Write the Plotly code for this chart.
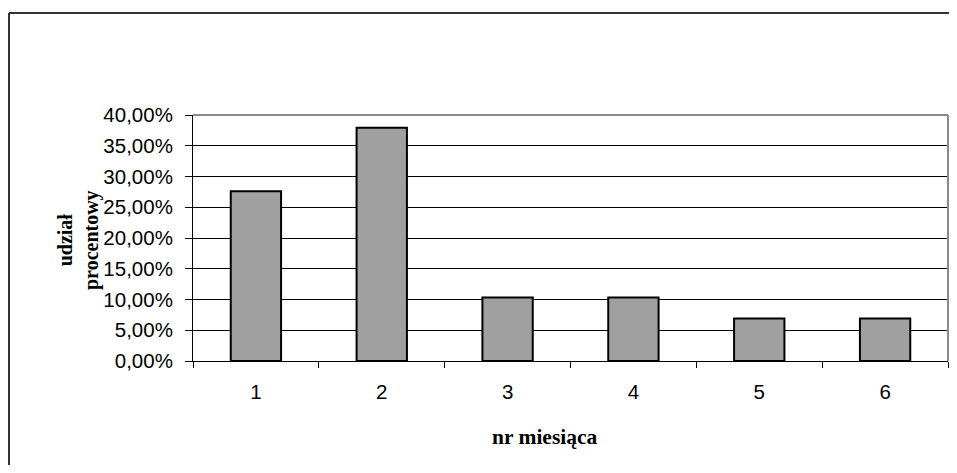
import plotly.graph_objects as go

months = ["1", "2", "3", "4", "5", "6"]
share = [0.2759, 0.3793, 0.1034, 0.1034, 0.0690, 0.0690]
y_ticks = [0, 0.05, 0.10, 0.15, 0.20, 0.25, 0.30, 0.35, 0.40]

OFF = 8  # default page body margin
# keep the figure inside the window (no scrollbars)
W, H = 957 - 2 * OFF, 473 - 2 * OFF
# plot area in absolute page pixels
X0, X1, Y0, Y1 = 193, 948, 115, 361
L, R, T, B = X0 - OFF, (W + OFF) - X1, Y0 - OFF, (H + OFF) - Y1
pw = X1 - X0
ph = Y1 - Y0

def px(x):
    return (x - X0) / pw

def py(y):
    return (Y1 - y) / ph

fig = go.Figure()
fig.add_trace(go.Bar(
    x=months, y=share,
    marker=dict(color="#A0A0A0", line=dict(color="black", width=2)),
    hoverinfo="skip",
))

fig.update_layout(
    width=W, height=H,
    margin=dict(l=L, r=R, t=T, b=B, pad=0),
    paper_bgcolor="white", plot_bgcolor="white",
    bargap=0.6,
    showlegend=False,
    separators=", ",
    font=dict(family="Liberation Sans, Arial", size=20, color="black"),
)
fig.update_xaxes(
    type="category",
    tickson="boundaries",
    ticks="outside", ticklen=6, tickcolor="black", tickwidth=1,
    showgrid=False, showline=True, linecolor="black", linewidth=1,
    tickfont=dict(family="Liberation Sans, Arial", size=20.5),
    ticklabelstandoff=12,
    range=[-0.5, 5.5],
)
fig.update_yaxes(
    range=[0, 0.4],
    tickvals=y_ticks,
    tickformat=".2%",
    ticks="outside", ticklen=7, tickcolor="black", tickwidth=1,
    showgrid=True, gridcolor="black", gridwidth=1,
    showline=True, linecolor="black", linewidth=1,
    zeroline=False,
    tickfont=dict(family="Liberation Sans, Arial", size=20.5),
    ticklabelstandoff=8,
)

# plot area top and right border (gray)
fig.add_shape(type="line", xref="paper", yref="paper", x0=0, x1=1, y0=1, y1=1,
              line=dict(color="#8a8a8a", width=2))
fig.add_shape(type="line", xref="paper", yref="paper", x0=1, x1=1, y0=0, y1=1,
              line=dict(color="#8a8a8a", width=2))

# outer chart border (left and top visible)
fig.add_shape(type="line", xref="paper", yref="paper", x0=px(9), x1=px(990), y0=py(13), y1=py(13),
              line=dict(color="#333333", width=2))
fig.add_shape(type="line", xref="paper", yref="paper", x0=px(9), x1=px(9), y0=py(13), y1=py(500),
              line=dict(color="#333333", width=2))

# axis titles
fig.add_annotation(text="<b>nr miesiąca</b>", xref="paper", yref="paper",
                   x=px(545), y=py(437), xanchor="center", yanchor="middle",
                   showarrow=False,
                   font=dict(family="Liberation Serif, Times New Roman", size=21.5, color="black"))
fig.add_annotation(text="<b>udział<br>procentowy</b>", xref="paper", yref="paper",
                   x=px(78), y=py(240), xanchor="center", yanchor="middle",
                   textangle=-90, showarrow=False,
                   font=dict(family="Liberation Serif, Times New Roman", size=20, color="black"))

fig.write_html("out.html", config={"displayModeBar": False})
